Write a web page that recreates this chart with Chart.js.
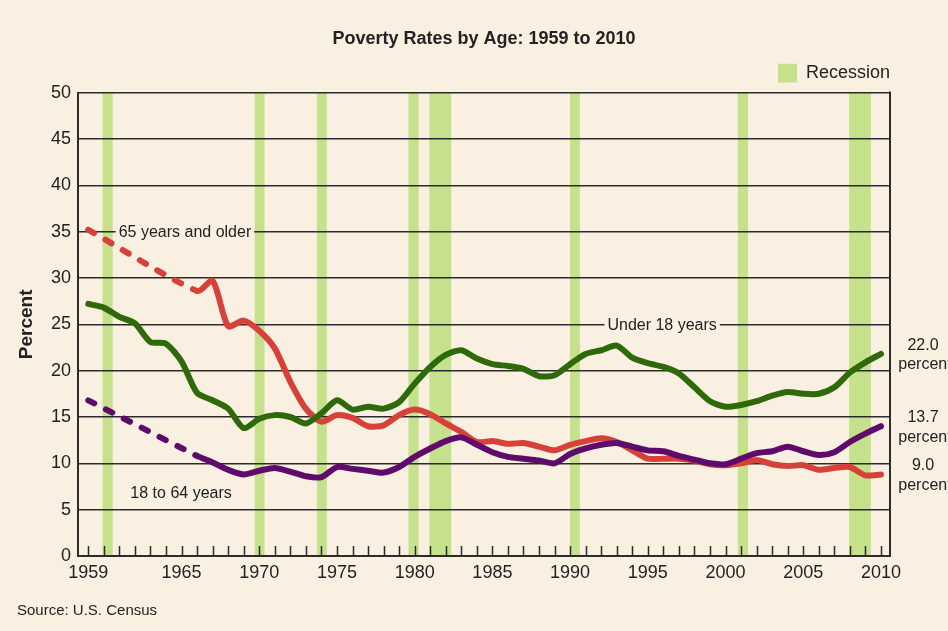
<!DOCTYPE html>
<html><head><meta charset="utf-8">
<script src="https://cdn.jsdelivr.net/npm/chart.js@4/dist/chart.umd.min.js"></script>
<style>html,body{margin:0;padding:0;background:#FAF0E2;}</style>
</head><body>
<canvas id="c" width="948" height="631"></canvas>
<script>
// ---------- data ----------
const years = [1959,1960,1961,1962,1963,1964,1965,1966,1967,1968,1969,1970,1971,1972,1973,1974,1975,1976,1977,1978,1979,
  1980,1981,1982,1983,1984,1985,1986,1987,1988,1989,1990,1991,1992,1993,1994,1995,1996,1997,1998,1999,
  2000,2001,2002,2003,2004,2005,2006,2007,2008,2009,2010];
const under18 = [27.2,26.8,25.8,25.1,23.1,22.9,21.0,17.6,16.8,15.9,13.8,14.8,15.2,15.0,14.3,15.4,16.8,15.8,16.1,15.9,16.6,
  18.6,20.4,21.7,22.2,21.3,20.7,20.5,20.2,19.4,19.5,20.7,21.8,22.2,22.7,21.4,20.8,20.4,19.7,18.2,16.7,
  16.1,16.3,16.7,17.3,17.7,17.5,17.5,18.2,19.8,20.9,21.8];
const age18to64 = [16.8,null,null,null,null,null,null,10.8,10.1,9.3,8.8,9.2,9.5,9.1,8.6,8.5,9.6,9.4,9.2,9.0,9.6,
  10.7,11.6,12.4,12.8,12.0,11.2,10.7,10.5,10.3,10.0,11.0,11.6,12.0,12.2,11.8,11.4,11.3,10.8,10.4,10.0,
  9.9,10.5,11.1,11.3,11.8,11.3,10.9,11.2,12.3,13.2,14.0];
const age65plus = [35.2,null,null,null,null,null,null,28.6,29.7,24.8,25.4,24.3,22.4,18.8,15.9,14.5,15.2,14.9,14.0,14.1,15.2,
  15.8,15.3,14.3,13.4,12.3,12.4,12.1,12.2,11.8,11.4,12.0,12.4,12.7,12.3,11.4,10.5,10.5,10.5,10.3,9.9,
  9.8,10.0,10.35,9.9,9.7,9.8,9.3,9.5,9.6,8.7,8.8];
const xTickYears = [1959,1965,1970,1975,1980,1985,1990,1995,2000,2005,2010];
const yTicks = [0,5,10,15,20,25,30,35,40,45,50];
const recessionStart = [1959.92,1969.71,1973.71,1979.60,1980.95,1989.99,2000.79,2007.95];
const recessionEnd   = [1960.57,1970.34,1974.35,1980.25,1982.35,1990.63,2001.45,2009.35];
const endLabels = ['22.0','13.7','9.0'];

// ---------- styles ----------
const FONT = '"Liberation Sans", Arial, Helvetica, sans-serif';
const BG = '#FAF0E2', REC = '#C5E18C', INK = '#222222', GRID = '#2b2b2b';
const C_GREEN = '#2F6A0A', C_PURPLE = '#5E0B6B', C_RED = '#D8403A';
Chart.defaults.font.family = FONT;
Chart.defaults.color = INK;

const pts = arr => years.map((yr, i) => ({x: yr, y: arr[i]}));
const dashGap = ctx => ((ctx.p0 && ctx.p0.skip) || (ctx.p1 && ctx.p1.skip) ? [7, 13] : undefined);

const lineDs = (label, arr, color) => ({
  label, data: pts(arr), borderColor: color, backgroundColor: color,
  borderWidth: 6, pointRadius: 0, tension: 0.25, spanGaps: true,
  borderCapStyle: 'round', borderJoinStyle: 'round', fill: false,
  segment: {borderDash: dashGap}
});

const decor = {
  id: 'decor',
  beforeDraw(chart) {
    const {ctx, chartArea: a, scales: {x}} = chart;
    ctx.save();
    ctx.fillStyle = BG; ctx.fillRect(0, 0, chart.width, chart.height);
    ctx.fillStyle = REC;
    recessionStart.forEach((s, i) => {
      const x1 = x.getPixelForValue(s), x2 = x.getPixelForValue(recessionEnd[i]);
      ctx.fillRect(x1, a.top, x2 - x1, a.bottom - a.top);
    });
    ctx.restore();
  },
  beforeDatasetsDraw(chart) {
    const {ctx, chartArea: a, scales: {x}} = chart;
    ctx.save();
    ctx.strokeStyle = GRID; ctx.lineWidth = 1.5;
    ctx.beginPath();
    years.forEach(yr => {
      const px = Math.round(x.getPixelForValue(yr)) + 0.5;
      ctx.moveTo(px, a.bottom); ctx.lineTo(px, a.bottom - 10);
    });
    ctx.stroke();
    ctx.lineWidth = 2;
    ctx.beginPath(); ctx.moveTo(a.right, a.top - 1); ctx.lineTo(a.right, a.bottom + 1); ctx.stroke();
    ctx.restore();
  },
  afterDatasetsDraw(chart) {
    const {ctx, scales: {x, y}} = chart;
    ctx.save();
    ctx.font = '16px ' + FONT;
    ctx.textBaseline = 'middle'; ctx.textAlign = 'center';
    const boxed = (txt, xv, yv) => {
      const px = x.getPixelForValue(xv), py = y.getPixelForValue(yv);
      const w = ctx.measureText(txt).width;
      ctx.fillStyle = BG; ctx.fillRect(px - w / 2 - 3, py - 9, w + 6, 18);
      ctx.fillStyle = INK; ctx.fillText(txt, px, py + 1);
    };
    boxed('65 years and older', 1965.22, 35);
    boxed('Under 18 years', 1995.92, 25);
    ctx.fillStyle = INK;
    ctx.fillText('18 to 64 years', x.getPixelForValue(1964.97), y.getPixelForValue(6.75));
    // end labels
    const series = [under18, age18to64, age65plus];
    series.forEach((arr, i) => {
      const py = y.getPixelForValue(arr[arr.length - 1]) + 1;
      ctx.fillText(endLabels[i], 923, py - 9.5);
      ctx.fillText('percent', 925, py + 10);
    });
    ctx.restore();
  }
};

new Chart(document.getElementById('c'), {
  type: 'line',
  data: {
    datasets: [
      lineDs('Under 18 years', under18, C_GREEN),
      lineDs('18 to 64 years', age18to64, C_PURPLE),
      lineDs('65 years and older', age65plus, C_RED)
    ]
  },
  options: {
    responsive: false, animation: false, devicePixelRatio: 1,
    layout: {padding: {left: 17, right: 58, top: 10, bottom: 5}},
    scales: {
      x: {
        type: 'linear', min: 1958.34, max: 2010.58,
        afterBuildTicks: ax => { ax.ticks = xTickYears.map(v => ({value: v})); },
        afterFit: s => { s.height = 30; },
        grid: {display: true, drawOnChartArea: false, drawTicks: false},
        border: {display: true, color: GRID, width: 2},
        ticks: {font: {size: 18}, color: INK, padding: 6, maxRotation: 0, autoSkip: false,
                callback: v => String(v)}
      },
      y: {
        min: 0, max: 50,
        afterBuildTicks: ax => { ax.ticks = yTicks.map(v => ({value: v})); },
        afterFit: s => { s.width = 61; },
        grid: {color: GRID, lineWidth: 1.5, drawTicks: false},
        border: {display: true, color: GRID, width: 2},
        ticks: {font: {size: 18}, color: INK, padding: 7, callback: v => String(v)},
        title: {display: true, text: 'Percent', font: {size: 19, weight: 'bold', lineHeight: 1}, color: INK, padding: 0}
      }
    },
    plugins: {
      title: {display: true, text: 'Poverty Rates by Age: 1959 to 2010', fullSize: false,
              font: {size: 18, weight: 'bold'}, color: INK, padding: {top: 18, bottom: 14}},
      subtitle: {display: true, text: 'Source: U.S. Census', position: 'bottom', align: 'start',
                 font: {size: 15}, color: INK, padding: {top: 16, bottom: 6}},
      legend: {
        display: true, position: 'top', align: 'end', fullSize: false,
        onClick: null,
        labels: {
          boxWidth: 19, boxHeight: 19, padding: 0, font: {size: 18}, color: INK,
          generateLabels: () => [{text: 'Recession', fillStyle: REC, strokeStyle: REC, lineWidth: 0, hidden: false, fontColor: INK}]
        }
      },
      tooltip: {enabled: false}
    }
  },
  plugins: [decor]
});
</script>
</body></html>
